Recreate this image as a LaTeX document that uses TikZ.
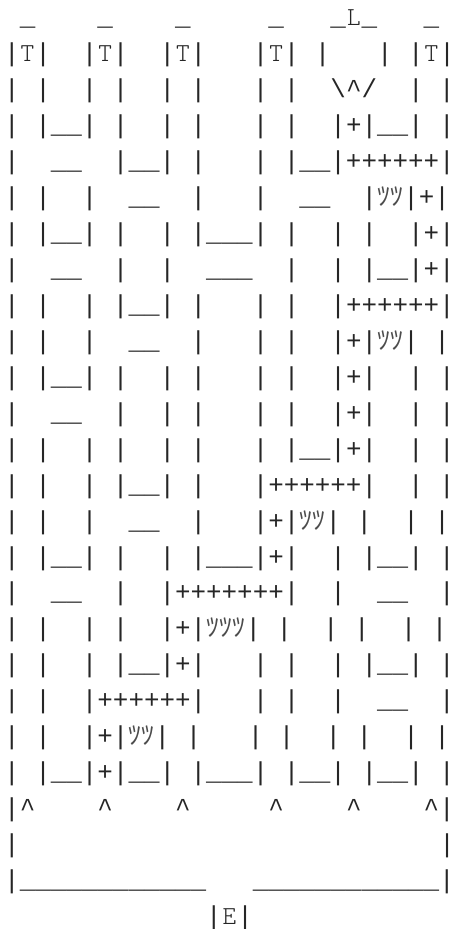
\documentclass[tikz,border=0pt]{standalone}
\usepackage{fontspec}
\newfontfamily\artfont{Liberation Mono}
\newfontfamily\lmfont{lmmonolt10-regular}[Extension=.otf]
\newfontfamily\cjkfont{Noto Sans CJK JP}
\newlength\cw
\setlength\cw{7.768pt}
\newcommand\tsu{\makebox[6.55pt][c]{\color{black!70}\cjkfont ﾂ}}
\newcommand\sT{\makebox[\cw][c]{\lmfont T}}
\newcommand\sL{\makebox[\cw][c]{\lmfont L}}
\newcommand\sE{\makebox[\cw][c]{\lmfont E}}
\newcommand\ca{\textasciicircum}
\frenchspacing
\tikzset{
  art/.style={anchor=base west, inner sep=0pt, outer sep=0pt, text=black!85,
    font=\artfont\fontsize{12.945pt}{14pt}\selectfont}
}
\begin{document}
\begin{tikzpicture}[x=0.5pt,y=-0.5pt]
\useasboundingbox (0,0) rectangle (454,929);
\node[art] (l1)  at (4.23,25.75)  {~\_~~~~\_~~~~\_~~~~~\_~~~\_\sL\_~~~\_};
\node[art] (l2)  at (4.23,61.70)  {|\sT|~~|\sT|~~|\sT|~~~|\sT|~|~~~|~|\sT|};
\node[art] (l3)  at (4.23,97.65)  {|~|~~|~|~~|~|~~~|~|~~\textbackslash\ca/~~|~|};
\node[art] (l4)  at (4.23,133.60) {|~|\_\_|~|~~|~|~~~|~|~~|+|\_\_|~|};
\node[art] (l5)  at (4.23,169.55) {|~~\_\_~~|\_\_|~|~~~|~|\_\_|++++++|};
\node[art] (l6)  at (4.23,205.50) {|~|~~|~~\_\_~~|~~~|~~\_\_~~|\tsu\tsu|+|};
\node[art] (l7)  at (4.23,241.45) {|~|\_\_|~|~~|~|\_\_\_|~|~~|~|~~|+|};
\node[art] (l8)  at (4.23,277.40) {|~~\_\_~~|~~|~~\_\_\_~~|~~|~|\_\_|+|};
\node[art] (l9)  at (4.23,313.35) {|~|~~|~|\_\_|~|~~~|~|~~|++++++|};
\node[art] (l10) at (4.23,349.30) {|~|~~|~~\_\_~~|~~~|~|~~|+|\tsu\tsu|~|};
\node[art] (l11) at (4.23,385.25) {|~|\_\_|~|~~|~|~~~|~|~~|+|~~|~|};
\node[art] (l12) at (4.23,421.20) {|~~\_\_~~|~~|~|~~~|~|~~|+|~~|~|};
\node[art] (l13) at (4.23,457.15) {|~|~~|~|~~|~|~~~|~|\_\_|+|~~|~|};
\node[art] (l14) at (4.23,493.10) {|~|~~|~|\_\_|~|~~~|++++++|~~|~|};
\node[art] (l15) at (4.23,529.05) {|~|~~|~~\_\_~~|~~~|+|\tsu\tsu|~|~~|~|};
\node[art] (l16) at (4.23,565.00) {|~|\_\_|~|~~|~|\_\_\_|+|~~|~|\_\_|~|};
\node[art] (l17) at (4.23,600.95) {|~~\_\_~~|~~|+++++++|~~|~~\_\_~~|};
\node[art] (l18) at (4.23,636.90) {|~|~~|~|~~|+|\tsu\tsu\tsu|~|~~|~|~~|~|};
\node[art] (l19) at (4.23,672.85) {|~|~~|~|\_\_|+|~~~|~|~~|~|\_\_|~|};
\node[art] (l20) at (4.23,708.80) {|~|~~|++++++|~~~|~|~~|~~\_\_~~|};
\node[art] (l21) at (4.23,744.75) {|~|~~|+|\tsu\tsu|~|~~~|~|~~|~|~~|~|};
\node[art] (l22) at (4.23,780.70) {|~|\_\_|+|\_\_|~|\_\_\_|~|\_\_|~|\_\_|~|};
\node[art] (l23) at (4.23,816.65) {|\ca~~~~\ca~~~~\ca~~~~~\ca~~~~\ca~~~~\ca|};
\node[art] (l24) at (4.23,852.60) {|~~~~~~~~~~~~~~~~~~~~~~~~~~~|};
\node[art] (l25) at (4.23,888.55) {|\_\_\_\_\_\_\_\_\_\_\_\_~~~\_\_\_\_\_\_\_\_\_\_\_\_|};
\node[art] (l26) at (4.23,924.50) {~~~~~~~~~~~~~|\sE|};
\end{tikzpicture}
\end{document}
